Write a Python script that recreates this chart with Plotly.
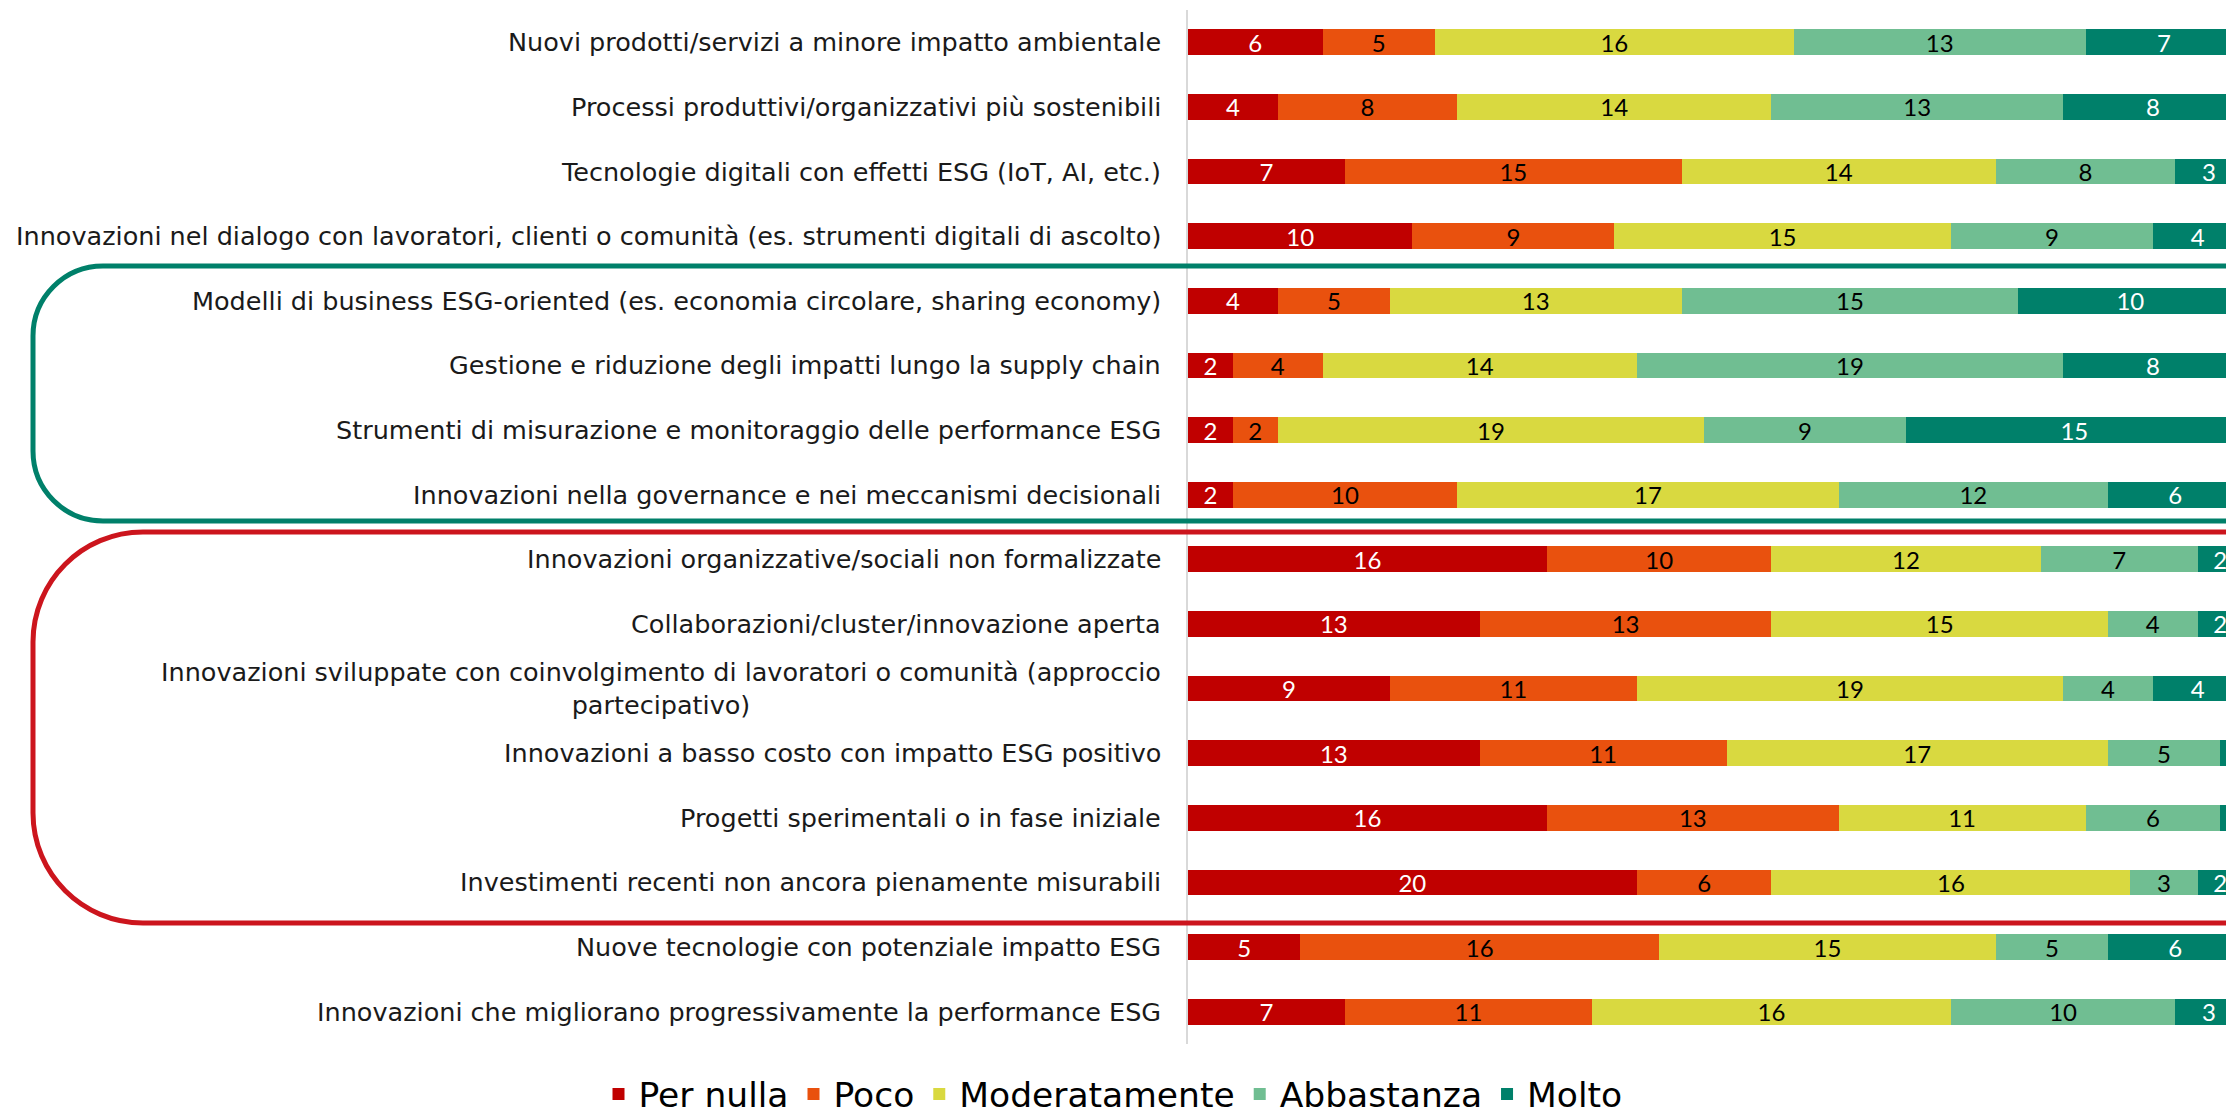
import plotly.graph_objects as go

# ---------------- data ----------------
labels = [
    "Nuovi prodotti/servizi a minore impatto ambientale",
    "Processi produttivi/organizzativi più sostenibili",
    "Tecnologie digitali con effetti ESG (IoT, AI, etc.)",
    "Innovazioni nel dialogo con lavoratori, clienti o comunità (es. strumenti digitali di ascolto)",
    "Modelli di business ESG-oriented (es. economia circolare, sharing economy)",
    "Gestione e riduzione degli impatti lungo la supply chain",
    "Strumenti di misurazione e monitoraggio delle performance ESG",
    "Innovazioni nella governance e nei meccanismi decisionali",
    "Innovazioni organizzative/sociali non formalizzate",
    "Collaborazioni/cluster/innovazione aperta",
    "Innovazioni sviluppate con coinvolgimento di lavoratori o comunità (approccio<br>partecipativo)",
    "Innovazioni a basso costo con impatto ESG positivo",
    "Progetti sperimentali o in fase iniziale",
    "Investimenti recenti non ancora pienamente misurabili",
    "Nuove tecnologie con potenziale impatto ESG",
    "Innovazioni che migliorano progressivamente la performance ESG",
]

series_names = ["Per nulla", "Poco", "Moderatamente", "Abbastanza", "Molto"]

per_nulla     = [6, 4, 7, 10, 4, 2, 2, 2, 16, 13, 9, 13, 16, 20, 5, 7]
poco          = [5, 8, 15, 9, 5, 4, 2, 10, 10, 13, 11, 11, 13, 6, 16, 11]
moderatamente = [16, 14, 14, 15, 13, 14, 19, 17, 12, 15, 19, 17, 11, 16, 15, 16]
abbastanza    = [13, 13, 8, 9, 15, 19, 9, 12, 7, 4, 4, 5, 6, 3, 5, 10]
molto         = [7, 8, 3, 4, 10, 8, 15, 6, 2, 2, 4, 1, 1, 2, 6, 3]

series_values = [per_nulla, poco, moderatamente, abbastanza, molto]

# ---------------- styles ----------------
colors = ["#C00000", "#E9510E", "#D9D940", "#70BE92", "#00806A"]
text_colors = ["#FFFFFF", "#000000", "#000000", "#000000", "#FFFFFF"]
FONT = "DejaVu Sans"
NUM_FONT = "Lato"

W_FIG, H_FIG = 2226, 1115
L, R_M, T, B_M = 1188, 0, 10, 71
PW = W_FIG - L - R_M
PH = H_FIG - T - B_M

fig = go.Figure()
for name, vals, col, tcol in zip(series_names, series_values, colors, text_colors):
    fig.add_trace(go.Bar(
        name=name,
        y=labels,
        x=vals,
        orientation="h",
        marker=dict(color=col, line=dict(width=0)),
        text=[str(v) for v in vals],
        textposition="inside",
        insidetextanchor="middle",
        textangle=0,
        constraintext="none",
        textfont=dict(family=NUM_FONT, size=24, color=tcol),
        cliponaxis=True,
        hoverinfo="x+y+name",
    ))

# category labels as annotations (second line of wrapped label centred)
annotations = []
for lab in labels:
    annotations.append(dict(
        xref="paper", x=0, xshift=-25, xanchor="right",
        yref="y", y=lab, yanchor="middle",
        text=lab, showarrow=False, align="center",
        font=dict(family=FONT, size=25.5, color="#1A1A1A"),
    ))


def px(xp):
    return (xp - L) / PW


def py(yp):
    return 1 - (yp - T) / PH


def bracket(left, top, bottom, r, right=2300):
    k = 0.5523 * r
    pts = [
        f"M {px(right)},{py(top)}",
        f"L {px(left + r)},{py(top)}",
        f"C {px(left + r - k)},{py(top)} {px(left)},{py(top + r - k)} {px(left)},{py(top + r)}",
        f"L {px(left)},{py(bottom - r)}",
        f"C {px(left)},{py(bottom - r + k)} {px(left + r - k)},{py(bottom)} {px(left + r)},{py(bottom)}",
        f"L {px(right)},{py(bottom)}",
    ]
    return " ".join(pts)


shapes = [
    dict(type="path", xref="paper", yref="paper", path=bracket(33, 266, 521, 70),
         line=dict(color="#00806A", width=5), layer="above"),
    dict(type="path", xref="paper", yref="paper", path=bracket(33, 532, 923, 110),
         line=dict(color="#CC151D", width=5), layer="above"),
]

fig.update_layout(
    width=W_FIG, height=H_FIG,
    margin=dict(l=L, r=R_M, t=T, b=B_M, pad=0, autoexpand=False),
    barmode="stack",
    bargap=0.6,
    plot_bgcolor="white",
    paper_bgcolor="white",
    font=dict(family=FONT, color="#000000"),
    xaxis=dict(range=[0, 46.26], showgrid=False, zeroline=False, showticklabels=False,
               showline=False, ticks="", fixedrange=True),
    yaxis=dict(autorange="reversed", showgrid=False, zeroline=False, showticklabels=False,
               ticks="", showline=True, linecolor="#D9D9D9", linewidth=2, fixedrange=True),
    legend=dict(orientation="h", traceorder="normal",
                xref="container", yref="paper", x=0.5, xanchor="center",
                y=py(1094), yanchor="middle",
                font=dict(family=FONT, size=34.5, color="#000000"),
                bgcolor="rgba(0,0,0,0)"),
    annotations=annotations,
    shapes=shapes,
    showlegend=True,
)

fig.write_html("out.html", config={"displayModeBar": False},
               post_script="document.body.style.margin='0';document.body.style.overflow='hidden';")
